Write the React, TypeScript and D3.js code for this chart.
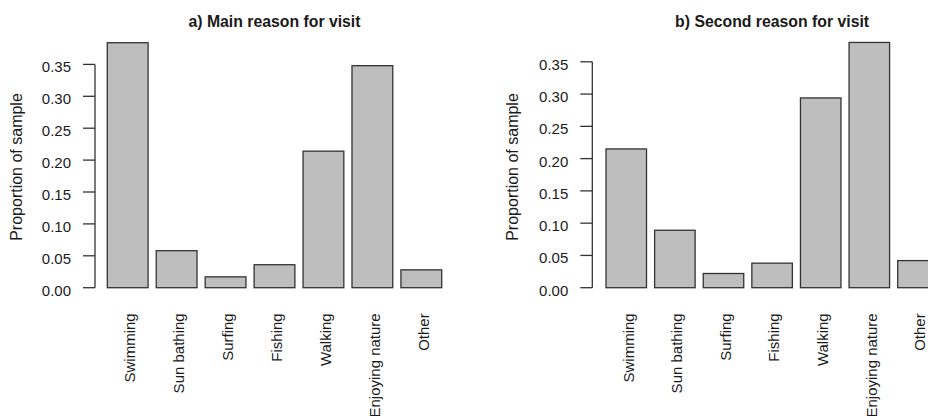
import React from "react";
import * as d3 from "d3";

// Reasons for visiting, as proportions of the sample
const categories = [
  "Swimming",
  "Sun bathing",
  "Surfing",
  "Fishing",
  "Walking",
  "Enjoying nature",
  "Other",
];
const mainReason = [0.384, 0.058, 0.017, 0.036, 0.214, 0.348, 0.028];
const secondReason = [0.215, 0.089, 0.022, 0.038, 0.294, 0.38, 0.042];
const yTicks = [0, 0.05, 0.1, 0.15, 0.2, 0.25, 0.3, 0.35];
const titles = ["a) Main reason for visit", "b) Second reason for visit"];
const yLabel = "Proportion of sample";

const W = 928;
const H = 416;
const FONT = "Arial, 'Liberation Sans', Helvetica, sans-serif";
const TEXT = "#1a1a1a";
const LINE = "#333";

type PanelProps = {
  values: number[];
  title: string;
  axisX: number;
  barStart: number;
  barEnd: number;
  yTop: number;
  yLabelX: number;
};

function Panel({ values, title, axisX, barStart, barEnd, yTop, yLabelX }: PanelProps) {
  const y0 = 287.7;
  const y = d3.scaleLinear().domain([0, 0.35]).range([y0, yTop]);
  const x = d3
    .scaleBand<string>()
    .domain(categories)
    .range([barStart, barEnd])
    .paddingInner(0.2 / 1.2)
    .paddingOuter(0);
  const plotRight = barEnd + (barStart - axisX);
  const titleX = (axisX + plotRight) / 2;
  const tickLen = 12;

  return (
    <g>
      <text
        x={titleX}
        y={26.7}
        textAnchor="middle"
        fontFamily={FONT}
        fontWeight="bold"
        fontSize={15.8}
        fill={TEXT}
      >
        {title}
      </text>

      {values.map((v, i) => (
        <rect
          key={categories[i]}
          x={x(categories[i])!}
          y={y(v)}
          width={x.bandwidth()}
          height={y0 - y(v)}
          fill="#bebebe"
          stroke={LINE}
          strokeWidth={1.3}
        />
      ))}

      {/* y axis */}
      <line
        x1={axisX}
        x2={axisX}
        y1={y(yTicks[0])}
        y2={y(yTicks[yTicks.length - 1])}
        stroke={LINE}
        strokeWidth={1.3}
      />
      {yTicks.map((t) => (
        <g key={t}>
          <line
            x1={axisX - tickLen}
            x2={axisX}
            y1={y(t)}
            y2={y(t)}
            stroke={LINE}
            strokeWidth={1.3}
          />
          <text
            x={axisX - tickLen - 12}
            y={y(t) + 7.9}
            textAnchor="end"
            fontFamily={FONT}
            fontSize={15}
            fill={TEXT}
          >
            {d3.format(".2f")(t)}
          </text>
        </g>
      ))}

      <text
        transform={`translate(${yLabelX},167) rotate(-90)`}
        textAnchor="middle"
        fontFamily={FONT}
        fontSize={16}
        fill={TEXT}
      >
        {yLabel}
      </text>

      {/* category labels, perpendicular to the axis */}
      {categories.map((c) => (
        <text
          key={c}
          transform={`translate(${x(c)! + x.bandwidth() / 2 + 7.3},313.3) rotate(-90)`}
          textAnchor="end"
          fontFamily={FONT}
          fontSize={15}
          fill={TEXT}
        >
          {c}
        </text>
      ))}
    </g>
  );
}

export default function App() {
  return (
    <svg
      width={W}
      height={H}
      viewBox={`0 0 ${W} ${H}`}
      style={{ position: "absolute", left: 0, top: 0, background: "#fff" }}
    >
      <rect width={W} height={H} fill="#fff" />
      <Panel
        values={mainReason}
        title={titles[0]}
        axisX={95}
        barStart={107.3}
        barEnd={441.7}
        yTop={64.4}
        yLabelX={22}
      />
      <Panel
        values={secondReason}
        title={titles[1]}
        axisX={592.3}
        barStart={606}
        barEnd={938.2}
        yTop={61.8}
        yLabelX={518}
      />
    </svg>
  );
}
